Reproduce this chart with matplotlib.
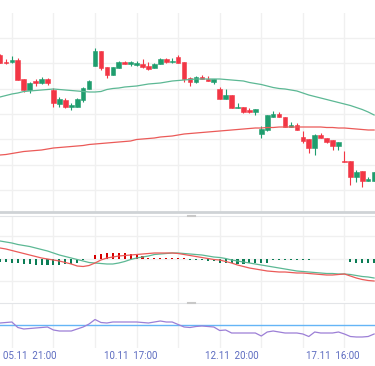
import numpy as np
import matplotlib.pyplot as plt

# candles (open, high, low, close), one per bar
opens = [195, 188, 188, 190, 171, 160, 169, 167, 171, 160, 146, 150, 143, 143, 150, 161,
         184, 199, 183, 175, 182, 188, 186, 185, 186, 184, 182, 186, 191, 188, 193, 188,
         172, 168, 173, 171, 168, 161, 151, 155, 142, 143, 140, 138, 116, 120, 133, 136,
         133, 123, 125, 113, 111, 102, 115, 112, 110, 104, 89, 89, 73, 79, 69, 69]
highs = [196, 191, 194, 192, 171, 168, 171, 173, 172, 162, 153, 152, 147, 152, 163, 170,
         202, 199, 183, 183, 189, 189, 189, 189, 191, 188, 187, 192, 192, 192, 195, 188,
         173, 174, 175, 174, 171, 163, 161, 155, 147, 143, 142, 141, 124, 135, 139, 138,
         133, 128, 127, 119, 111, 116, 117, 112, 110, 108, 99, 89, 80, 79, 73, 78]
lows = [187, 186, 187, 170, 158, 157, 164, 166, 165, 143, 143, 142, 140, 143, 148, 161,
        184, 180, 172, 175, 182, 186, 184, 184, 182, 180, 182, 186, 187, 187, 187, 168,
        164, 167, 171, 169, 166, 151, 151, 142, 142, 137, 137, 135, 112, 119, 133, 133,
        123, 123, 120, 107, 97, 95, 112, 107, 100, 100, 88, 65, 68, 63, 69, 69]
closes = [187, 187, 190, 170, 160, 167, 167, 171, 167, 147, 151, 143, 145, 151, 162, 169,
          199, 182, 175, 183, 188, 186, 188, 187, 183, 181, 186, 191, 188, 189, 187, 171,
          168, 173, 171, 169, 171, 151, 155, 142, 143, 138, 138, 141, 121, 135, 136, 133,
          123, 125, 120, 109, 102, 115, 112, 108, 104, 108, 88, 73, 78, 69, 71, 78]

ma_green = [153, 154.5, 156, 157, 158.5, 159, 159.5, 160, 160.5, 161, 160.5, 160, 159.5, 159,
            158.5, 158, 158, 158.5, 160.5, 161.5, 162, 163, 163.5, 164, 165, 166, 166.5, 167,
            168, 169, 169.5, 170, 170.5, 171, 171, 171, 171, 171, 170.5, 170, 169.5, 169,
            167.5, 166.5, 165.5, 164, 162.5, 161.5, 161, 160, 159, 157, 155, 153.5, 152,
            150.5, 149, 147.5, 146, 144.5, 142.5, 140.5, 138, 135]
ma_red = [95, 95.5, 96.5, 97.5, 98.5, 99, 99.5, 100, 101, 102, 102.5, 103, 103.5, 104, 104.5,
          105.5, 106, 106.5, 107, 107.5, 108, 108.5, 109, 110.5, 111, 111.5, 112, 113, 113.5,
          114, 115, 116, 116.5, 117, 117.5, 118, 118.5, 119, 119.5, 120, 120.5, 121, 121.5,
          122, 122, 122.5, 122.5, 123, 123, 123, 123, 123, 123, 123, 123, 122.5, 122.5, 122,
          122, 121.5, 121, 120.5, 120, 120]

# MACD panel
macd_green = [17.5, 16.5, 15.5, 14, 13, 12, 10.5, 9, 7.5, 5.5, 3.5, 2, 0.5, -1, -2.5, -4,
              -4.5, -5, -5.5, -5.5, -4.5, -3, -1, 0.5, 1.5, 2.5, 4, 4.5, 5, 5.5, 5.5, 5,
              4.5, 4, 3.5, 2.5, 1.5, 1, 0, -1.5, -2.5, -3.5, -4.5, -5.5, -6.5, -7.5, -8.5,
              -9.5, -10.5, -11.5, -12.5, -13, -13.5, -14, -14.5, -15, -15, -15.5, -15.5,
              -16, -17, -18, -18.5, -19.5]
macd_red = [10.5, 9.5, 8, 6.5, 5, 3.5, 2, 0.5, -0.5, -1.5, -2.5, -4, -5.5, -7.5, -8, -7,
            -4.5, -1.5, 0.5, 1.5, 2.5, 3, 3.5, 4, 4.5, 5, 5.5, 5.5, 5.5, 5.5, 5, 4, 3, 2,
            1, 0, -1, -1.5, -3, -4.5, -6.5, -8, -9.5, -10.5, -11.5, -12.5, -13, -13.5,
            -13.5, -14, -14.5, -14.5, -15, -15.5, -16, -16.5, -16.5, -16, -15.5, -17.5,
            -19.5, -21, -22, -22.5]
hist = [-3.5, -3.5, -4, -4.5, -5, -5.5, -6, -6, -6, -6, -6, -5.5, -5, -4, -1, -0.7,
        4, 5, 5.5, 6, 6, 5.5, 5, 4, 2.5, 1, 0.8, 0.6, 0.6, 0.5, 0.5, 0.5,
        -1.5, -1.5, -1.8, -2, -2, -4, -4.5, -4.5, -5, -5, -4.5, -4.5, -4.5, -4,
        -1.2, -1.2, -1.2, -1, -1, -1, -1, -0.8, -0.8, -0.7, -0.7, -0.7, -0.3,
        -3.5, -4, -4, -4, -4]

# oscillator panel
osc = [52, 52.5, 53, 47.5, 46, 46.5, 47, 47.5, 48, 45, 44, 44, 44, 46, 48, 51, 55.5, 52.5,
       52, 53, 53, 53, 53, 53, 52.5, 52, 53, 54, 53, 53, 50.5, 48, 47.5, 48.5, 49, 48.5,
       48, 44.5, 45, 42, 42, 42, 42, 42, 39, 43, 44, 43, 42, 42, 42, 41, 38.5, 43, 42, 42,
       42, 43, 41, 38.5, 38, 38, 38.5, 41]
osc_level = 50

tick_pos = [5, 22, 39, 56]
tick_labels = ['05.11  21:00', '10.11  17:00', '12.11  20:00', '17.11  16:00']

x = np.arange(len(opens))
o, h, l, c = map(np.array, (opens, highs, lows, closes))
up = c >= o

GREEN = '#1f9d6e'
RED = '#f23645'
GRID = '#f0f0f0'

fig = plt.figure(figsize=(3.75, 3.66), dpi=100)
H = 366
ax = fig.add_axes([0, (H - 212) / H, 1, 199 / H])
ax2 = fig.add_axes([0, (H - 301) / H, 1, 85 / H])
ax3 = fig.add_axes([0, (H - 348) / H, 1, 45 / H])

for a in (ax, ax2, ax3):
    a.set_xlim(0, 63.15)
    a.set_xticks(np.arange(2, 64, 7))
    a.grid(True, color=GRID, lw=1)
    a.set_axisbelow(True)
    a.tick_params(which='both', length=0, labelbottom=False, labelleft=False)
    for s in a.spines.values():
        s.set_visible(False)

# main panel
ax.set_ylim(38, 237)
ax.set_yticks(np.linspace(60, 212, 7))
cols = np.where(up, GREEN, RED)
ax.vlines(x, l, h, colors=cols, lw=0.8, zorder=2)
body = np.maximum(np.abs(c - o), 0.8)
ax.bar(x, body, bottom=np.minimum(o, c), width=0.78, color=cols, lw=0.4,
       edgecolor=cols, zorder=3)
ax.plot(x, ma_green, color='#5cb894', lw=0.9, zorder=4)
ax.plot(x, ma_red, color='#eb5a58', lw=0.9, zorder=4)
ax.spines['bottom'].set_visible(True)
ax.spines['bottom'].set_color('#cfd3d6')
ax.spines['bottom'].set_linewidth(2)

# MACD panel
ax2.set_ylim(-42.5, 42.5)
ax2.set_yticks([-22.5, 0, 22.5])
hc = np.where(np.array(hist) >= 0, '#d50000', '#0b7d55')
ax2.bar(x, hist, width=0.35, color=hc, zorder=2)
ax2.plot(x, macd_green, color='#5cb894', lw=0.9, zorder=3)
ax2.plot(x, macd_red, color='#eb5a58', lw=0.9, zorder=3)
ax2.spines['top'].set_visible(True)
ax2.spines['top'].set_color('#e3e5e8')
ax2.spines['top'].set_linewidth(0.8)

# oscillator panel
ax3.set_ylim(27, 72)
ax3.set_yticks([])
ax3.axhline(osc_level, color='#64b5f6', lw=1, zorder=2)
ax3.plot(x, osc, color='#9c7fd6', lw=0.9, zorder=3)
ax3.spines['top'].set_visible(True)
ax3.spines['top'].set_color('#e3e5e8')
ax3.spines['top'].set_linewidth(0.8)
ax3.set_xticks(tick_pos, minor=True)
ax3.set_xticklabels(tick_labels, minor=True, fontsize=7, color='#5c6bc0',
                    family='Roboto')
ax3.tick_params(which='minor', labelbottom=True, pad=2)

# panel handles
fig.add_artist(plt.Line2D([188 / 375, 195 / 375], [(H - 215.5) / H] * 2,
                          color='#c8c8c8', lw=1.5))
fig.add_artist(plt.Line2D([188 / 375, 195 / 375], [(H - 303) / H] * 2,
                          color='#c8c8c8', lw=1.5))

plt.savefig('out.png', dpi=100)
